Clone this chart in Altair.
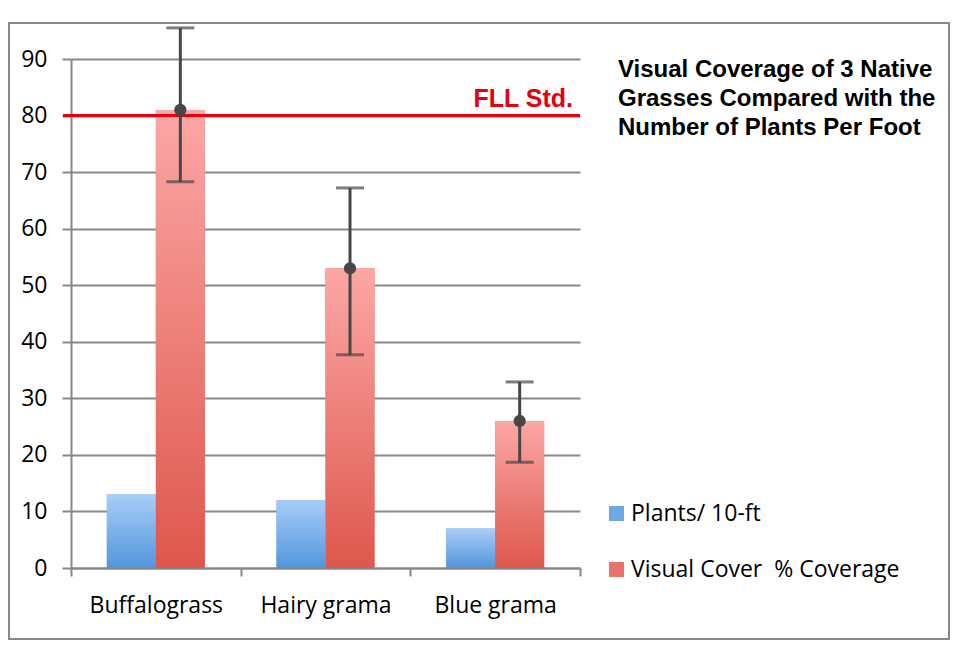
import altair as alt
import pandas as pd

# ---- data ----
grasses = ["Buffalograss", "Hairy grama", "Blue grama"]
series_names = ["Plants/ 10-ft", "Visual Cover\u00a0 % Coverage"]
plants_per_10ft = [13, 12, 7]
visual_cover = [81, 53, 26]
cover_low = [68.3, 37.7, 18.7]
cover_high = [95.5, 67.2, 32.9]
fll_std = 80
y_ticks = [0, 10, 20, 30, 40, 50, 60, 70, 80, 90]
title_lines = ["Visual Coverage of 3 Native",
               "Grasses Compared with the",
               "Number of Plants Per Foot"]

bars = pd.DataFrame({
    "grass": grasses * 2,
    "series": [series_names[0]] * 3 + [series_names[1]] * 3,
    "value": plants_per_10ft + visual_cover,
})
err = pd.DataFrame({
    "grass": grasses,
    "series": [series_names[1]] * 3,
    "mean": visual_cover,
    "low": cover_low,
    "high": cover_high,
})
std_df = pd.DataFrame({"std": [fll_std]})
one = pd.DataFrame({"k": [0]})

W, H = 509, 509
GRAY = "#888888"
FONT = "Open Sans"
ERR = "#474747"

x_scale = alt.Scale(domain=grasses, paddingInner=0, paddingOuter=0)
xo_scale = alt.Scale(domain=series_names, paddingInner=0, paddingOuter=0.731)
y_scale = alt.Scale(domain=[0, 90], nice=False)
y_axis = alt.Axis(title=None, values=y_ticks)
x_axis = alt.Axis(title=None)

X = alt.X("grass:N", sort=grasses, scale=x_scale, axis=x_axis)
XO = alt.XOffset("series:N", scale=xo_scale)

frame = alt.Chart(one).mark_rect(fill="transparent", stroke=GRAY, strokeWidth=2).encode(
    x=alt.value(-62), x2=alt.value(878), y=alt.value(-36), y2=alt.value(580)
)

legend_bars = alt.Chart(bars).mark_bar().encode(
    x=X, xOffset=XO,
    y=alt.Y("value:Q", scale=y_scale, axis=y_axis),
    color=alt.Color("series:N",
                    scale=alt.Scale(domain=series_names, range=["#6ea8e8", "#e8726c"]),
                    legend=alt.Legend(title=None, orient="none", legendX=534, legendY=443,
                                      symbolType="square", symbolSize=225, symbolStrokeWidth=0,
                                      labelFont=FONT, labelFontSize=23, labelColor="black",
                                      rowPadding=32, labelOffset=3, labelLimit=400)),
)

blue_grad = alt.Gradient(gradient="linear", x1=0, x2=0, y1=0, y2=1,
                         stops=[alt.GradientStop(offset=0, color="#a8cdf8"),
                                alt.GradientStop(offset=1, color="#5295dc")])
red_grad = alt.Gradient(gradient="linear", x1=0, x2=0, y1=0, y2=1,
                        stops=[alt.GradientStop(offset=0, color="#fca7a5"),
                               alt.GradientStop(offset=1, color="#de574d")])

blue_bars = alt.Chart(bars).transform_filter(
    alt.datum.series == series_names[0]
).mark_bar(color=blue_grad).encode(
    x=X, xOffset=XO, y=alt.Y("value:Q", scale=y_scale, axis=y_axis)
)
red_bars = alt.Chart(bars).transform_filter(
    alt.datum.series == series_names[1]
).mark_bar(color=red_grad).encode(
    x=X, xOffset=XO, y=alt.Y("value:Q", scale=y_scale, axis=y_axis)
)

fll_rule = alt.Chart(std_df).mark_rule(color="#e6000e", strokeWidth=3).encode(
    y=alt.Y("std:Q", scale=y_scale, axis=y_axis), x=alt.value(-8), x2=alt.value(W)
)
fll_text = alt.Chart(std_df).mark_text(
    align="right", baseline="alphabetic", font="Liberation Sans", fontWeight="bold",
    fontSize=25, color="#e6000e", dy=-9
).encode(y=alt.Y("std:Q", scale=y_scale, axis=y_axis), x=alt.value(502), text=alt.value("FLL Std."))

err_rule = alt.Chart(err).mark_rule(color=ERR, strokeWidth=3).encode(
    x=X, xOffset=XO,
    y=alt.Y("low:Q", scale=y_scale, axis=y_axis), y2="high:Q"
)
cap_low = alt.Chart(err).mark_tick(color=ERR, thickness=3, size=28, orient="horizontal").encode(
    x=X, xOffset=XO, y=alt.Y("low:Q", scale=y_scale, axis=y_axis)
)
cap_high = alt.Chart(err).mark_tick(color=ERR, thickness=3, size=28, orient="horizontal").encode(
    x=X, xOffset=XO, y=alt.Y("high:Q", scale=y_scale, axis=y_axis)
)
err_pt = alt.Chart(err).mark_point(filled=True, size=150, color=ERR, opacity=1).encode(
    x=X, xOffset=XO, y=alt.Y("mean:Q", scale=y_scale, axis=y_axis)
)

title = alt.Chart(one).mark_text(
    text=title_lines, align="left", baseline="alphabetic", font="Liberation Sans",
    fontWeight="bold", fontSize=24, lineHeight=29, color="black"
).encode(x=alt.value(547), y=alt.value(18))

chart = alt.layer(
    frame, legend_bars, blue_bars, red_bars, fll_rule, fll_text,
    err_rule, cap_low, cap_high, err_pt, title
).properties(
    width=W, height=H,
    autosize=alt.AutoSizeParams(type="none"),
    padding={"left": 63, "top": 51, "right": 372, "bottom": 84},
    background="white",
).configure_view(strokeWidth=0).configure_axis(
    domainColor=GRAY, domainWidth=2, tickColor=GRAY, tickWidth=2,
    labelFont=FONT, labelFontSize=23, labelColor="black",
    gridColor=GRAY, gridWidth=2,
).configure_axisX(
    grid=False, tickBand="extent", tickSize=8, labelPadding=18, labelAngle=0
).configure_axisY(
    grid=True, tickSize=9, labelPadding=15
)

chart.save("out.html", embed_options={"renderer": "svg", "actions": False})
